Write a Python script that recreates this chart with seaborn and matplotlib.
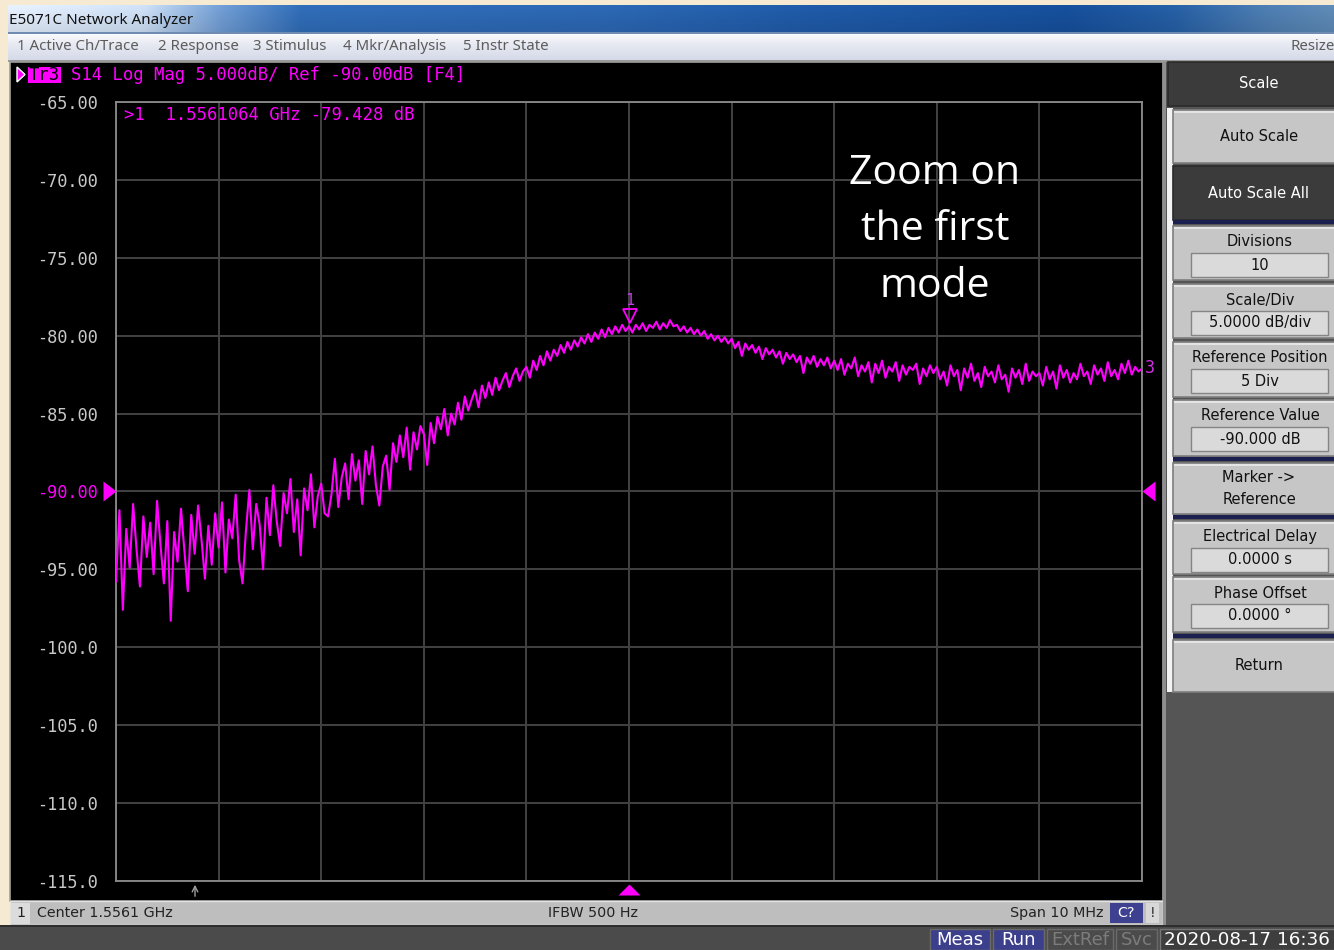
import numpy as np
import pandas as pd
import matplotlib
matplotlib.use("Agg")
import matplotlib.pyplot as plt
import matplotlib.transforms as mtransforms
from matplotlib.patches import Rectangle, Polygon
from matplotlib.colors import to_rgb
import seaborn as sns

# ------------------------------------------------------------------ data
center_ghz = 1.5561
span_mhz = 10.0
n_divisions = 10
scale_db_per_div = 5.0
ref_value_db = -90.0
ref_position_div = 5
marker_freq_ghz = 1.5561064
marker_value_db = -79.428

y_tick_values = [-65, -70, -75, -80, -85, -90, -95, -100, -105, -110, -115]
y_tick_labels = ["-65.00", "-70.00", "-75.00", "-80.00", "-85.00", "-90.00",
                 "-95.00", "-100.0", "-105.0", "-110.0", "-115.0"]

# trace (dB), 30 points per MHz division
trace_seg0 = [-95.8, -91.2, -97.6, -92.4, -94.9, -90.8, -93.7, -96.1, -91.6, -94.2,
              -92.0, -95.3, -90.6, -93.4, -95.9, -91.9, -98.3, -92.6, -94.5, -91.1,
              -93.8, -96.4, -91.5, -94.0, -90.9, -93.1, -95.6, -92.2, -94.7, -91.4]
trace_seg1 = [-93.6, -90.7, -95.2, -91.8, -93.0, -90.2, -94.4, -95.9, -92.5, -89.9,
              -93.7, -90.8, -92.1, -95.0, -90.4, -92.8, -89.6, -91.9, -93.5, -90.1,
              -91.4, -89.2, -92.6, -90.5, -94.1, -89.8, -91.2, -88.9, -92.3, -90.3]
trace_seg2 = [-89.5, -91.4, -91.6, -90.2, -87.9, -91.0, -89.1, -88.2, -90.5, -87.6,
              -89.3, -88.0, -90.8, -87.4, -88.9, -87.1, -89.6, -90.9, -88.4, -87.7,
              -89.9, -86.9, -88.1, -86.4, -87.8, -85.9, -88.6, -86.2, -87.3, -85.8]
trace_seg3 = [-86.3, -88.3, -85.6, -86.9, -85.2, -86.0, -84.7, -86.4, -85.0, -85.7,
              -84.3, -85.4, -83.9, -84.8, -84.1, -83.5, -84.6, -83.2, -84.0, -83.0,
              -83.8, -82.7, -83.5, -82.9, -82.4, -83.3, -82.6, -82.1, -82.9, -82.3]
trace_seg4 = [-82.0, -82.7, -81.6, -82.2, -81.3, -81.9, -81.0, -81.6, -80.9, -81.3,
              -80.6, -81.1, -80.4, -80.9, -80.3, -80.7, -80.1, -80.5, -79.9, -80.4,
              -79.8, -80.2, -79.6, -80.1, -79.5, -79.9, -79.4, -79.8, -79.3, -79.7]
trace_seg5 = [-79.4, -79.8, -79.3, -79.6, -79.2, -79.7, -79.3, -79.5, -79.1, -79.6,
              -79.2, -79.5, -79.0, -79.4, -79.3, -79.7, -79.4, -79.8, -79.5, -79.9,
              -79.6, -80.0, -79.7, -80.2, -79.9, -80.3, -80.0, -80.4, -80.1, -80.5]
trace_seg6 = [-80.2, -80.8, -80.4, -81.3, -80.5, -80.9, -80.6, -81.1, -80.7, -81.5,
              -80.8, -81.2, -80.9, -81.4, -81.0, -81.8, -81.1, -81.5, -81.2, -81.7,
              -81.3, -82.4, -81.4, -81.8, -81.3, -82.0, -81.5, -81.9, -81.4, -82.1]
trace_seg7 = [-81.6, -82.2, -81.5, -82.5, -81.8, -82.1, -81.4, -82.6, -81.9, -82.3,
              -81.7, -83.0, -81.8, -82.4, -81.6, -82.7, -82.0, -82.3, -81.7, -82.9,
              -81.9, -82.5, -82.0, -82.2, -81.8, -83.1, -82.1, -82.6, -81.9, -82.4]
trace_seg8 = [-82.0, -82.8, -82.3, -83.2, -81.9, -82.6, -82.2, -83.5, -82.1, -82.7,
              -81.8, -82.9, -82.4, -83.3, -82.0, -82.6, -82.3, -83.0, -81.9, -82.8,
              -82.5, -83.6, -82.1, -82.7, -82.2, -83.1, -81.8, -82.9, -82.3, -82.6]
trace_seg9 = [-82.4, -83.2, -82.0, -82.8, -82.3, -83.4, -81.9, -82.7, -82.2, -83.0,
              -82.4, -82.8, -81.8, -82.6, -82.3, -83.1, -81.9, -82.5, -82.1, -82.9,
              -81.7, -82.6, -82.2, -82.8, -81.8, -82.4, -81.6, -82.5, -82.0, -82.3,
              -82.1]
trace_db = (trace_seg0 + trace_seg1 + trace_seg2 + trace_seg3 + trace_seg4 +
            trace_seg5 + trace_seg6 + trace_seg7 + trace_seg8 + trace_seg9)

title_text = "E5071C Network Analyzer"
menu_items = ["1 Active Ch/Trace", "2 Response", "3 Stimulus", "4 Mkr/Analysis", "5 Instr State", "Resize"]
header_trace = "Tr3"
header_text = "S14 Log Mag 5.000dB/ Ref -90.00dB [F4]"
marker_readout = ">1  1.5561064 GHz -79.428 dB"
annotation_text = "Zoom on\nthe first\nmode"
softkey_labels = ["Scale", "Auto Scale", "Auto Scale All", "Divisions", "Scale/Div",
                  "Reference Position", "Reference Value", "Marker ->\nReference",
                  "Electrical Delay", "Phase Offset", "Return"]
softkey_values = [None, None, None, "10", "5.0000 dB/div", "5 Div", "-90.000 dB",
                  None, "0.0000 s", "0.0000 \u00b0", None]
status_left = "Center 1.5561 GHz"
status_mid = "IFBW 500 Hz"
status_right = "Span 10 MHz"
bottom_items = ["Meas", "Run", "ExtRef", "Svc"]
timestamp = "2020-08-17 16:36"

# ------------------------------------------------------------------ derived
center_mhz = center_ghz * 1000.0
freq_mhz = center_mhz + np.linspace(-span_mhz / 2, span_mhz / 2, len(trace_db))
grid_x = center_mhz + np.linspace(-span_mhz / 2, span_mhz / 2, n_divisions + 1)
y_top = ref_value_db + (n_divisions - ref_position_div) * scale_db_per_div
y_bot = ref_value_db - ref_position_div * scale_db_per_div
df = pd.DataFrame({"freq_mhz": freq_mhz, "db": trace_db})

# ------------------------------------------------------------------ figure
sns.set_style("dark")
plt.rcParams["font.family"] = ["DejaVu Sans"]
MONO = "DejaVu Sans Mono"
MAG = "#FF00FF"
W, H = 1334, 950
fig = plt.figure(figsize=(W / 100, H / 100), dpi=100)
fig.patch.set_facecolor("#F6EBD2")

bg = fig.add_axes([0, 0, 1, 1])
bg.axis("off")


def rect(x0, y0, x1, y1, fc, ec="none", lw=0.0, z=1):
    bg.add_patch(Rectangle((x0, y0), x1 - x0, y1 - y0, facecolor=fc,
                           edgecolor=ec, linewidth=lw, zorder=z))


def txt(x, y, s, **kw):
    kw.setdefault("va", "center")
    kw.setdefault("zorder", 10)
    bg.text(x, y, s, **kw)


def grad(x0, x1, y0, y1, stops, vtop=1.0, vbot=1.0, horizontal=True, z=2):
    pos = [p for p, _ in stops]
    cols = np.array([to_rgb(c) for _, c in stops])
    t = np.linspace(0, 1, 256)
    line = np.stack([np.interp(t, pos, cols[:, i]) for i in range(3)], axis=-1)
    if horizontal:
        arr = np.repeat(line[None, :, :], 24, axis=0)
        fac = np.linspace(vtop, vbot, 24)[:, None, None]
        arr = np.clip(arr * fac, 0, 1)
    else:
        arr = np.repeat(line[:, None, :], 8, axis=1)
    bg.imshow(arr, extent=(x0, x1, y1, y0), aspect="auto",
              interpolation="bilinear", zorder=z)


# window background / title bar
rect(0, 0, W, H, "#F6EBD2", z=0)
grad(8, W, 5, 33, [(0, "#DCE6F3"), (0.1, "#C6D7EC"), (0.16, "#6B96CB"),
                   (0.22, "#2E68B0"), (0.45, "#2A63AC"), (0.6, "#1E57A1"),
                   (0.8, "#154C95"), (0.88, "#245B9E"), (0.95, "#4A78AA"),
                   (1, "#5A84AF")], vtop=1.06, vbot=0.95)
rect(8, 32, W, 34, "#6F8DB2", z=3)
txt(9, 20, title_text, fontsize=11, color="#111111", family="Noto Sans")

# menu bar
grad(8, W, 34, 61, [(0, "#FAFBFD"), (0.4, "#E6E9F2"), (1, "#D4D9E8")], horizontal=False)
rect(8, 60, W, 62, "#9A9A9A", z=3)
menu_x = [17, 158, 253, 343, 463, 1290]
for mx, item in zip(menu_x, menu_items):
    txt(mx, 47, item, fontsize=10.8, color="#5C5C5C", family="Noto Sans")

# main black area, status bar, right panel, bottom bar
rect(10, 62, 1163, 901, "black", ec="#A0A0A0", lw=1.2, z=2)
rect(10, 901, 1163, 925, "#BEBEBE", ec="#E2E2E2", lw=1.0, z=2)
rect(1163, 62, W, 925, "#555555", z=2)
rect(1163, 62, 1166, 925, "#8E8E8E", z=3)
rect(0, 925, W, H, "#4B4B4B", z=2)
rect(0, 925, W, 927, "#2E2E2E", z=3)
rect(0, 0, 8, 925, "#F6EBD2", z=3)

# header line
bg.add_patch(Polygon([(17, 67), (17, 82), (25, 74.5)], closed=True, facecolor=MAG, zorder=5))
rect(28, 67, 61, 83, MAG, z=5)
txt(29, 75, header_trace, fontsize=12.4, color="black", family=MONO)
txt(71, 75, header_text, fontsize=12.4, color=MAG, family=MONO)

# gray stimulus arrow below the grid
bg.annotate("", xy=(195, 882), xytext=(195, 899),
            arrowprops=dict(arrowstyle="->", color="#A0A0A0", lw=1.0), zorder=6)

# status bar
rect(11, 903, 30, 924, "#DCDCDC", z=4)
txt(20.5, 913, "1", fontsize=10.3, color="#222222", ha="center")
txt(37, 913, status_left, fontsize=10.3, color="#222222")
txt(593, 913, status_mid, fontsize=10.3, color="#222222", ha="center")
txt(1104, 913, status_right, fontsize=10.3, color="#222222", ha="right")
rect(1110, 903, 1143, 923, "#3D4190", z=4)
txt(1126.5, 913, "C?", fontsize=10.3, color="white", ha="center")
rect(1146, 903, 1159, 923, "#D8D8D8", z=4)
txt(1152.5, 913, "!", fontsize=10.3, color="#333333", ha="center")

# bottom bar
bot_boxes = [(930, 990), (993, 1044), (1047, 1113), (1116, 1157)]
for (bx0, bx1), item, active in zip(bot_boxes, bottom_items, [True, True, False, False]):
    rect(bx0, 929, bx1, H, "#3C3F8C" if active else "#4B4B4B",
         ec="#6A6A6A", lw=1.0, z=4)
    txt((bx0 + bx1) / 2, 940, item, fontsize=13, color="white" if active else "#7C7C7C",
        ha="center")
rect(1160, 929, W + 5, H, "#3E3E3E", ec="#777777", lw=1.0, z=4)
txt(1164, 940, timestamp, fontsize=13.2, color="white")

# right softkey panel
rect(1167, 108, 1173, 692, "#F2F2F2", z=4)
softkey_y = [(62, 106), (110, 163), (166, 220), (226, 280), (284, 338), (342, 397),
             (400, 456), (463, 514), (521, 574), (577, 632), (640, 692)]
softkey_dark = [True, False, True, False, False, False, False, False, False, False, False]
for (y0, y1), lab, val, dark in zip(softkey_y, softkey_labels, softkey_values, softkey_dark):
    x0 = 1168 if lab == "Scale" else 1173
    fc = "#3B3B3B" if dark else "#C6C6C6"
    rect(x0, y0, W + 5, y1, fc, ec="#7E7E7E" if not dark else "#2A2A2A", lw=1.2, z=4)
    if not dark:
        rect(x0 + 1, y0 + 1, W + 5, y0 + 3, "#E4E4E4", z=5)
    tc = "white" if dark else "#111111"
    if val is None:
        lines = lab.split("\n")
        n = len(lines)
        for i, ln in enumerate(lines):
            yy = (y0 + y1) / 2 + (i - (n - 1) / 2) * 23
            txt(1259, yy, ln, fontsize=10.5, color=tc, ha="center")
    else:
        txt(1260, y0 + 16, lab, fontsize=10.5, color=tc, ha="center")
        rect(1191, y0 + 27, 1328, y0 + 51, "#DADADA", ec="#858585", lw=1.0, z=6)
        txt(1260, y0 + 39, val, fontsize=10.5, color=tc, ha="center")
for sy in [222, 459, 517, 636]:
    rect(1173, sy - 2, W + 5, sy + 2, "#1C2050", z=6)

bg.set_xlim(0, W)
bg.set_ylim(H, 0)

# ------------------------------------------------------------------ data axes
ax = fig.add_axes([116 / W, 1 - 881 / H, 1026 / W, 779 / H])
ax.set_facecolor("black")
sns.lineplot(data=df, x="freq_mhz", y="db", ax=ax, color=MAG, linewidth=1.5,
             sort=False, zorder=3)
ax.set_xlim(freq_mhz[0], freq_mhz[-1])
ax.set_ylim(y_bot, y_top)
ax.set_xticks(grid_x)
ax.set_xticklabels([])
ax.set_yticks(y_tick_values)
ax.set_yticklabels(y_tick_labels, fontfamily=MONO, fontsize=12.2, color="#C8C8C8")
ax.get_yticklabels()[y_tick_values.index(int(ref_value_db))].set_color(MAG)
ax.tick_params(length=0, pad=13)
ax.grid(True, color="#424242", linewidth=1.4)
ax.set_axisbelow(True)
ax.set_xlabel("")
ax.set_ylabel("")
for s in ax.spines.values():
    s.set_color("#8C8C8C")
    s.set_linewidth(1.3)
    s.set_visible(True)

# marker 1
marker_mhz = marker_freq_ghz * 1000.0
off_tri = mtransforms.offset_copy(ax.transData, fig=fig, x=0, y=11, units="dots")
ax.plot([marker_mhz], [marker_value_db], marker="v", ms=9.5, mfc="none", mec=MAG,
        mew=1.3, transform=off_tri, clip_on=False, zorder=6)
off_lab = mtransforms.offset_copy(ax.transData, fig=fig, x=0, y=26, units="dots")
ax.text(marker_mhz, marker_value_db, "1", transform=off_lab, ha="center", va="center",
        color="#C23CE6", fontsize=11, family=MONO, clip_on=False, zorder=6)

# reference-level triangles
bl_xa_yd = mtransforms.blended_transform_factory(ax.transAxes, ax.transData)
ax.plot([0.0], [ref_value_db], marker=[(-1.3, -1), (0, 0), (-1.3, 1)], ms=18.7,
        mfc=MAG, mec="none", transform=bl_xa_yd, clip_on=False, zorder=6)
ax.plot([1.0], [ref_value_db], marker=[(1.3, -1), (0, 0), (1.3, 1)], ms=18.7,
        mfc=MAG, mec="none", transform=bl_xa_yd, clip_on=False, zorder=6)
ax.text(1.003, trace_db[-1], "3", transform=bl_xa_yd, ha="left", va="center",
        color="#D030E0", fontsize=12, family=MONO, clip_on=False)

# stimulus-center triangle below the grid
bl_xd_ya = mtransforms.blended_transform_factory(ax.transData, ax.transAxes)
ax.plot([center_mhz], [-0.018], marker=[(-1, 0), (1, 0), (0, 1)], ms=15.8,
        mfc=MAG, mec="none", transform=bl_xd_ya, clip_on=False, zorder=6)

# overlay texts
fig.text(124 / W, 1 - 115 / H, marker_readout, fontsize=12.4, color=MAG,
         family=MONO, va="center", ha="left")
fig.text(935 / W, 1 - 230 / H, annotation_text, fontsize=29.5, color="white",
         family="Open Sans", ha="center", va="center", multialignment="center",
         linespacing=1.52)

fig.savefig("out.png", dpi=100, facecolor=fig.get_facecolor())
